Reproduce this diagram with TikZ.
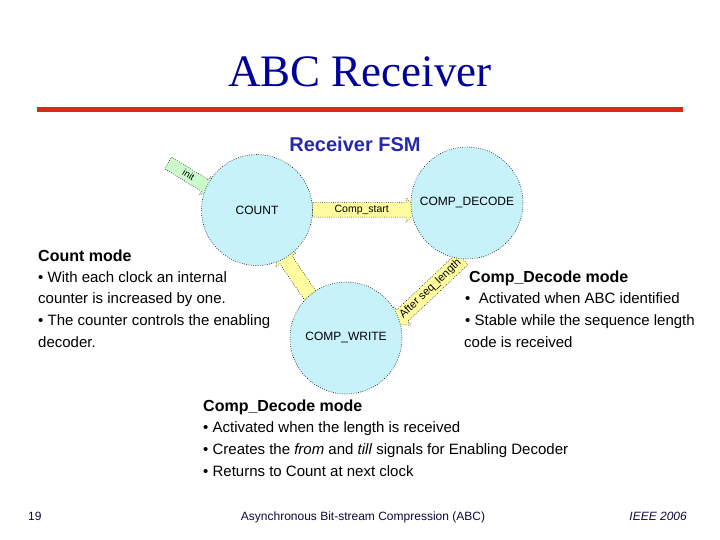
\documentclass[tikz,border=0pt]{standalone}
\usepackage{fontspec}
\setmainfont{Liberation Sans}
\newfontfamily\seriffont{Liberation Serif}
\usetikzlibrary{shapes.arrows}
\definecolor{titleblue}{RGB}{0,0,153}
\definecolor{fsmblue}{RGB}{40,40,170}
\definecolor{rulered}{RGB}{220,40,25}
\definecolor{statefill}{RGB}{200,242,250}
\definecolor{arrowyellow}{RGB}{255,252,160}
\definecolor{arrowgreen}{RGB}{204,250,204}
\definecolor{footblue}{RGB}{10,10,60}
\pgfdeclarelayer{bg}
\pgfsetlayers{bg,main}
\begin{document}
\begin{tikzpicture}[x=1pt,y=-1pt,
 state/.style={circle, draw=black, line width=0.6pt, dash pattern=on 0.7pt off 1.6pt, fill=statefill, inner sep=0pt, minimum size=112pt, font=\fontsize{12}{14}\selectfont},
 fatarrow/.style={single arrow, draw=black, line width=0.5pt, dash pattern=on 0.7pt off 1.5pt, fill=arrowyellow, single arrow head extend=5pt, single arrow tip angle=90, inner xsep=1pt, inner ysep=2.5pt, text height=7pt, text depth=2pt, font=\fontsize{10.5}{12}\selectfont, sloped, anchor=center},
 heading/.style={anchor=base west, inner sep=0pt, font=\fontsize{16}{19}\selectfont\bfseries},
 body/.style={anchor=base west, inner sep=0pt, font=\fontsize{15}{18}\selectfont},
 foot/.style={anchor=base, inner sep=0pt, text=footblue, font=\fontsize{12}{14}\selectfont}]

\useasboundingbox (0,0) rectangle (720,540);

\node[anchor=base, inner sep=0pt, text=titleblue, font=\seriffont\fontsize{45}{50}\selectfont] (title) at (360,87) {ABC Receiver};
\coordinate (ruleL) at (37,110);
\coordinate (ruleR) at (683,110);
\draw[rulered, line width=5pt] (ruleL) -- (ruleR);

\node[anchor=base, inner sep=0pt, text=fsmblue, font=\fontsize{20}{24}\selectfont\bfseries] (fsm) at (355,152) {Receiver FSM};

\node[state, minimum size=111pt] (count) at (257,210) {COUNT};
\node[state] (cdecode) at (467,203) {COMP\_DECODE};
\node[state] (cwrite) at (346,338) {COMP\_WRITE};

\coordinate (initstart) at (165,161);
\begin{pgfonlayer}{bg}
\path (initstart) -- (count.155) node[fatarrow, fill=arrowgreen, minimum height=54pt, pos=0.56, single arrow head extend=4pt, text height=6.5pt, text depth=1.5pt, inner ysep=2.5pt, font=\fontsize{9.5}{11}\selectfont] (initarrow) {init};
\path (count.east) -- (count.east -| cdecode.west) node[fatarrow, minimum height=106pt, midway] (startarrow) {Comp\_start};
\path (cwrite.130) -- (count.-60) node[fatarrow, shape border rotate=180, minimum height=58pt, midway] (backarrow) {};
\path (cdecode.-95) -- (cwrite.20) node[fatarrow, shape border rotate=180, minimum height=96pt, midway, text height=8pt, text depth=2.5pt, font=\fontsize{11}{13}\selectfont] (seqarrow) {After seq\_length};
\end{pgfonlayer}

\node[heading] (cmhead) at (38,261) {Count mode};
\node[body] (cm1) at (38,282) {• With each clock an internal};
\node[body] (cm2) at (38,303.5) {counter is increased by one.};
\node[body] (cm3) at (38,325) {• The counter controls the enabling};
\node[body] (cm4) at (38,347) {decoder.};

\node[heading] (cdhead) at (469,282) {Comp\_Decode mode};
\node[body] (cd1) at (465,303.5) {• \ Activated when ABC identified};
\node[body] (cd2) at (465,325) {• Stable while the sequence length};
\node[body] (cd3) at (464,347) {code is received};

\node[heading] (cwhead) at (203,411) {Comp\_Decode mode};
\node[body] (cw1) at (203,432.5) {• Activated when the length is received};
\node[body] (cw2) at (203,454.5) {• Creates the \textit{from} and \textit{till} signals for Enabling Decoder};
\node[body] (cw3) at (203,476) {• Returns to Count at next clock};

\node[foot, anchor=base west] (page) at (28,520) {19};
\node[foot] (ftitle) at (363,520) {Asynchronous Bit-stream Compression (ABC)};
\node[foot, anchor=base east] (fyear) at (687,520) {\itshape IEEE 2006};
\end{tikzpicture}
\end{document}
